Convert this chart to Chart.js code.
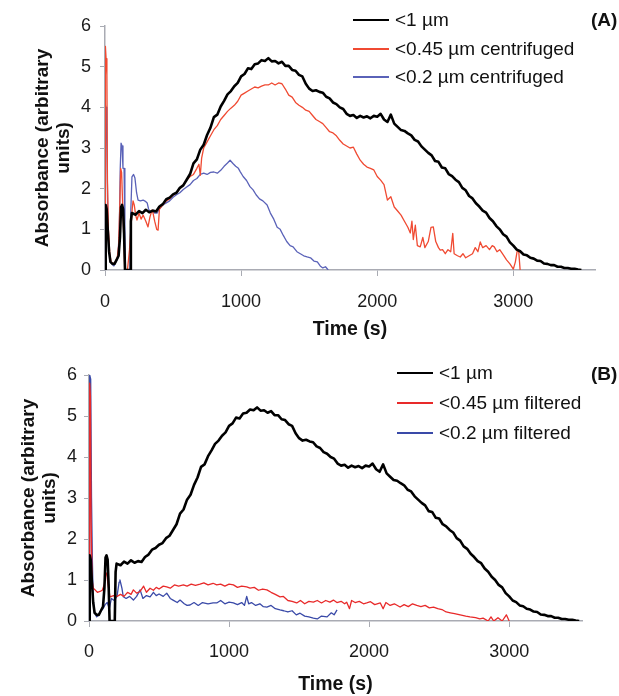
<!DOCTYPE html>
<html>
<head>
<meta charset="utf-8">
<script src="https://cdn.jsdelivr.net/npm/chart.js@4.4.0/dist/chart.umd.min.js"></script>
<style>
  body { margin: 0; background: #fff; font-family: "Liberation Sans", Arial, sans-serif; }
  #page { position: relative; width: 619px; height: 696px; overflow: hidden; }
  .panel { position: absolute; left: 0; width: 619px; }
  #panelA { top: 0; height: 345px; }
  #panelB { top: 345px; height: 351px; }
  .row { position: absolute; white-space: nowrap; font-size: 19px; color: #111; height: 24px; line-height: 24px; }
  .swatch { position: absolute; left: 0; top: 11px; width: 36px; height: 2px; }
  .row span { position: absolute; left: 42px; top: 0; }
  .tag { position: absolute; font-size: 19px; font-weight: bold; color: #111; line-height: 24px; }
</style>
</head>
<body>
<div id="page">
  <div class="panel" id="panelA"><canvas id="chartA" width="619" height="345"></canvas></div>
  <div class="panel" id="panelB"><canvas id="chartB" width="619" height="351"></canvas></div>

  <div class="row" style="left:353px; top:8px;"><div class="swatch" style="background:#000"></div><span>&lt;1 µm</span></div>
  <div class="row" style="left:353px; top:37px;"><div class="swatch" style="background:#f04a32"></div><span>&lt;0.45 µm centrifuged</span></div>
  <div class="row" style="left:353px; top:65px;"><div class="swatch" style="background:#5a62b8"></div><span>&lt;0.2 µm centrifuged</span></div>
  <div class="tag" style="left:591px; top:8px;">(A)</div>

  <div class="row" style="left:397px; top:361px;"><div class="swatch" style="background:#000"></div><span>&lt;1 µm</span></div>
  <div class="row" style="left:397px; top:391px;"><div class="swatch" style="background:#e82a2a"></div><span>&lt;0.45 µm filtered</span></div>
  <div class="row" style="left:397px; top:421px;"><div class="swatch" style="background:#3a4aa8"></div><span>&lt;0.2 µm filtered</span></div>
  <div class="tag" style="left:591px; top:362px;">(B)</div>
</div>

<script>
'use strict';

// --- DADOS: tempo (s) e absorvância ---
const yTicks = [0, 1, 2, 3, 4, 5, 6];
const xTicks = [0, 1000, 2000, 3000];

// <1 µm (igual nos dois painéis)
const blackTime = [0, 5, 12, 20, 30, 40, 55, 70, 85, 100, 110, 118, 125, 133, 140, 147, 165, 184, 190, 197,
  225, 250, 275, 300, 325, 350, 375, 400, 425, 450, 475, 500, 525, 550, 575, 600, 625, 650, 675, 700,
  725, 750, 775, 800, 825, 850, 875, 900, 925, 950, 975, 1000, 1025, 1050, 1075, 1100, 1125, 1150, 1175, 1200,
  1225, 1250, 1275, 1300, 1325, 1350, 1375, 1400, 1425, 1450, 1475, 1500, 1525, 1550, 1575, 1600, 1625, 1650, 1675, 1700,
  1725, 1750, 1775, 1800, 1825, 1850, 1875, 1900, 1925, 1950, 1975, 2000, 2025, 2050, 2075, 2100, 2125, 2150, 2175, 2200,
  2225, 2250, 2275, 2300, 2325, 2350, 2375, 2400, 2425, 2450, 2475, 2500, 2525, 2550, 2575, 2600, 2625, 2650, 2675, 2700,
  2725, 2750, 2775, 2800, 2825, 2850, 2875, 2900, 2925, 2950, 2975, 3000, 3025, 3050, 3075, 3100, 3125, 3150, 3175, 3200,
  3225, 3250, 3275, 3300, 3325, 3350, 3375, 3400, 3425, 3450, 3475, 3500];
const blackAbs = [0, 1.6, 1.5, 1.0, 0.45, 0.2, 0.15, 0.15, 0.25, 0.35, 0.8, 1.55, 1.6, 1.5, 0.9, 0, 0, 0, 1.2, 1.4,
  1.36, 1.45, 1.40, 1.48, 1.42, 1.46, 1.44, 1.56, 1.62, 1.74, 1.78, 1.86, 1.90, 2.02, 2.08, 2.22, 2.36, 2.62, 2.72, 2.96,
  3.08, 3.32, 3.50, 3.76, 3.82, 4.02, 4.16, 4.32, 4.40, 4.52, 4.60, 4.76, 4.82, 4.96, 4.94, 5.06, 5.08, 5.16, 5.14, 5.21,
  5.13, 5.14, 5.08, 5.12, 5.02, 5.02, 4.92, 4.90, 4.80, 4.76, 4.58, 4.46, 4.40, 4.42, 4.38, 4.36, 4.26, 4.22, 4.12, 4.08,
  4.00, 3.96, 3.84, 3.79, 3.81, 3.74, 3.79, 3.75, 3.78, 3.73, 3.79, 3.77, 3.84, 3.70, 3.64, 3.82, 3.60, 3.52, 3.44, 3.42,
  3.36, 3.31, 3.20, 3.16, 3.04, 2.96, 2.88, 2.82, 2.68, 2.66, 2.52, 2.50, 2.36, 2.31, 2.22, 2.16, 2.02, 1.96, 1.82, 1.76,
  1.64, 1.56, 1.46, 1.41, 1.28, 1.20, 1.08, 1.00, 0.88, 0.82, 0.68, 0.60, 0.50, 0.46, 0.38, 0.36, 0.30, 0.28, 0.23, 0.22,
  0.16, 0.15, 0.12, 0.12, 0.08, 0.08, 0.05, 0.05, 0.03, 0.03, 0.01, 0];

// (A) <0.45 µm centrifugado
const redATime = [0, 3, 8, 14, 18, 25, 35, 45, 60, 75, 90, 100, 108, 115, 122, 130, 138, 145, 165, 180,
  190, 200, 206, 215, 225, 235, 250, 265, 280, 300, 316, 330, 345, 353, 365, 380, 390, 400, 425, 450,
  475, 500, 525, 550, 575, 600, 625, 650, 675, 690, 700, 710, 725, 750, 775, 800, 825, 850, 875, 900,
  925, 950, 975, 1000, 1025, 1050, 1075, 1100, 1125, 1150, 1175, 1200, 1225, 1250, 1275, 1300, 1325, 1350, 1375, 1400,
  1425, 1450, 1475, 1500, 1525, 1550, 1575, 1600, 1625, 1650, 1675, 1700, 1725, 1750, 1775, 1800, 1825, 1850, 1875, 1900,
  1925, 1950, 1975, 2000, 2025, 2050, 2075, 2100, 2125, 2150, 2175, 2200, 2225, 2243, 2255, 2265, 2280, 2295, 2316, 2335,
  2350, 2375, 2395, 2412, 2430, 2450, 2463, 2480, 2500, 2520, 2540, 2555, 2565, 2590, 2610, 2630, 2650, 2675, 2700, 2720,
  2740, 2757, 2775, 2800, 2825, 2845, 2860, 2880, 2900, 2925, 2950, 2975, 3000, 3015, 3030, 3040, 3050];
const redAAbs = [0, 5.5, 5.2, 4.8, 2.2, 1.0, 0.4, 0.2, 0.15, 0.2, 0.3, 0.6, 1.5, 2.5, 2.4, 1.6, 0.8, 0, 0, 0.5,
  1.0, 1.5, 1.7, 1.6, 1.35, 1.23, 1.4, 1.25, 1.35, 1.2, 1.06, 1.3, 1.47, 1.4, 1.2, 1.0, 0.98, 1.5, 1.6, 1.7,
  1.75, 1.84, 1.9, 2.0, 2.1, 2.21, 2.3, 2.35, 2.5, 2.6, 2.33, 2.75, 3.0, 3.15, 3.3, 3.45, 3.55, 3.7, 3.8, 3.9,
  3.98, 4.05, 4.15, 4.3, 4.35, 4.4, 4.45, 4.5, 4.48, 4.52, 4.55, 4.55, 4.6, 4.55, 4.6, 4.58, 4.45, 4.3, 4.25, 4.12,
  4.05, 4.0, 3.93, 3.9, 3.8, 3.7, 3.65, 3.6, 3.5, 3.4, 3.37, 3.3, 3.19, 3.1, 3.05, 3.0, 3.02, 2.85, 2.7, 2.6,
  2.53, 2.5, 2.46, 2.3, 2.21, 2.1, 1.72, 1.8, 1.55, 1.45, 1.35, 1.2, 1.05, 0.91, 1.2, 0.75, 1.1, 0.6, 0.57, 0.8,
  0.55, 0.7, 1.05, 1.06, 0.7, 0.55, 0.49, 0.5, 0.4, 0.5, 0.45, 0.9, 0.4, 0.35, 0.32, 0.4, 0.3, 0.35, 0.4, 0.55,
  0.45, 0.69, 0.55, 0.6, 0.5, 0.6, 0.57, 0.45, 0.5, 0.38, 0.25, 0.15, 0.02, 0.2, 0.5, 0.44, 0];

// (A) <0.2 µm centrifugado
const blueATime = [0, 3, 8, 14, 20, 28, 38, 50, 65, 80, 95, 105, 112, 118, 125, 132, 140, 146, 150, 170,
  183, 190, 198, 210, 220, 232, 243, 260, 280, 300, 310, 320, 335, 350, 365, 382, 400, 425, 450, 475,
  500, 525, 550, 575, 600, 625, 650, 675, 700, 725, 750, 775, 800, 825, 850, 875, 900, 919, 940, 960,
  980, 993, 1015, 1040, 1065, 1088, 1110, 1135, 1160, 1191, 1215, 1240, 1265, 1287, 1310, 1335, 1360, 1382, 1410, 1435,
  1460, 1485, 1510, 1535, 1560, 1581, 1600, 1620, 1640];
const blueAAbs = [0, 4.05, 4.0, 3.0, 1.5, 0.6, 0.2, 0.15, 0.1, 0.2, 0.3, 1.0, 2.5, 3.12, 3.05, 2.5, 2.5, 1.0, 0, 0,
  0, 1.5, 2.29, 2.35, 2.26, 1.9, 1.72, 1.7, 1.72, 1.68, 1.65, 1.5, 1.42, 1.45, 1.4, 1.40, 1.5, 1.6, 1.65, 1.7,
  1.79, 1.85, 1.9, 1.98, 2.04, 2.1, 2.2, 2.25, 2.35, 2.38, 2.35, 2.4, 2.41, 2.38, 2.45, 2.55, 2.63, 2.70, 2.62, 2.55,
  2.5, 2.42, 2.3, 2.2, 2.05, 1.97, 1.85, 1.75, 1.7, 1.6, 1.4, 1.25, 1.05, 1.0, 0.85, 0.7, 0.6, 0.57, 0.45, 0.4,
  0.35, 0.32, 0.3, 0.22, 0.2, 0.1, 0.05, 0.08, 0];

// (B) <0.45 µm filtrado
const redBTime = [0, 5, 10, 15, 22, 30, 43, 60, 78, 95, 110, 120, 127, 135, 150, 175, 200, 225, 250, 275,
  300, 317, 340, 365, 390, 410, 436, 460, 480, 500, 530, 555, 580, 610, 640, 674, 700, 730, 760, 793,
  820, 850, 886, 912, 940, 970, 1000, 1031, 1060, 1090, 1126, 1150, 1180, 1210, 1240, 1270, 1300, 1330, 1364, 1388,
  1420, 1450, 1483, 1510, 1540, 1570, 1602, 1630, 1660, 1690, 1720, 1745, 1770, 1800, 1825, 1840, 1860, 1875, 1900, 1930,
  1960, 1983, 2010, 2040, 2080, 2100, 2120, 2150, 2180, 2221, 2250, 2280, 2310, 2340, 2370, 2400, 2430, 2460, 2490, 2520,
  2550, 2580, 2610, 2650, 2690, 2720, 2760, 2790, 2814, 2850, 2870, 2890, 2920, 2950, 2980, 3000];
const redBAbs = [0, 5.8, 5.5, 2.5, 1.0, 0.8, 0.76, 0.7, 0.72, 0.75, 0.9, 1.15, 1.17, 0.9, 0.59, 0.62, 0.6, 0.65, 0.6, 0.7,
  0.65, 0.76, 0.68, 0.72, 0.85, 0.7, 0.8, 0.75, 0.82, 0.78, 0.85, 0.83, 0.8, 0.88, 0.85, 0.88, 0.85, 0.9, 0.87, 0.9,
  0.93, 0.88, 0.92, 0.88, 0.9, 0.85, 0.9, 0.88, 0.82, 0.85, 0.83, 0.8, 0.82, 0.75, 0.78, 0.76, 0.7, 0.65, 0.59, 0.6,
  0.5, 0.48, 0.44, 0.5, 0.42, 0.48, 0.46, 0.5, 0.44, 0.5, 0.46, 0.51, 0.45, 0.48, 0.42, 0.46, 0.3, 0.5, 0.45, 0.48,
  0.42, 0.44, 0.47, 0.4, 0.44, 0.3, 0.45, 0.38, 0.42, 0.34, 0.4, 0.35, 0.42, 0.38, 0.35, 0.38, 0.32, 0.34, 0.3, 0.28,
  0.22, 0.2, 0.18, 0.15, 0.12, 0.1, 0.08, 0.05, 0.07, 0, 0.1, 0, 0.08, 0, 0.15, 0];

// (B) <0.2 µm filtrado
const blueBTime = [0, 5, 12, 18, 24, 30, 40, 55, 70, 85, 100, 115, 130, 145, 160, 180, 200, 215, 221, 235,
  245, 265, 290, 317, 340, 365, 385, 410, 436, 460, 480, 500, 530, 555, 580, 600, 630, 650, 680, 700,
  721, 750, 780, 810, 850, 886, 912, 940, 970, 1000, 1031, 1060, 1090, 1110, 1126, 1140, 1160, 1190, 1220, 1245,
  1270, 1300, 1330, 1364, 1390, 1420, 1450, 1480, 1507, 1540, 1570, 1602, 1630, 1660, 1700, 1730, 1750, 1771];
const blueBAbs = [0, 6.0, 5.9, 3.0, 1.5, 0.5, 0.2, 0.1, 0.15, 0.25, 0.3, 0.4, 0.45, 0.3, 0.55, 0.5, 0.6, 0.95, 1.0, 0.8,
  0.59, 0.55, 0.6, 0.51, 0.6, 0.76, 0.55, 0.62, 0.59, 0.7, 0.62, 0.66, 0.6, 0.68, 0.55, 0.51, 0.45, 0.51, 0.42, 0.38,
  0.39, 0.45, 0.38, 0.45, 0.42, 0.44, 0.44, 0.5, 0.42, 0.46, 0.44, 0.4, 0.45, 0.38, 0.6, 0.42, 0.45, 0.38, 0.42, 0.35,
  0.34, 0.38, 0.3, 0.27, 0.25, 0.22, 0.25, 0.15, 0.19, 0.12, 0.1, 0.07, 0.05, 0.12, 0.1, 0.2, 0.15, 0.27];

const FONT = '"Liberation Sans", Arial, sans-serif';

const toPoints = (times, values) => times.map((t, i) => ({ x: t, y: values[i] }));

function lineSet(label, times, values, color, width) {
    return {
        label: label,
        data: toPoints(times, values),
        borderColor: color,
        borderWidth: width,
        pointRadius: 0,
        tension: 0,
        borderJoinStyle: 'round',
        fill: false
    };
}

// --- PAINEL ---
function buildPanel(canvasId, datasets, box) {
    const ctx = document.getElementById(canvasId).getContext('2d');
    return new Chart(ctx, {
        type: 'line',
        data: { datasets: datasets },
        options: {
            responsive: false,
            animation: false,
            layout: { padding: { top: box.top, right: 619 - box.right, left: 0, bottom: 0 } },
            plugins: { legend: { display: false }, tooltip: { enabled: false } },
            scales: {
                x: {
                    type: 'linear',
                    min: 0,
                    max: box.xMax,
                    afterBuildTicks: (s) => { s.ticks = xTicks.map(v => ({ value: v })); },
                    afterFit: (s) => { s.height = box.xHeight; },
                    border: { color: '#a9abb3', width: 1.5 },
                    grid: { drawOnChartArea: false, drawTicks: true, tickLength: 6, color: '#a9abb3' },
                    ticks: {
                        color: '#1a1a1a', font: { family: FONT, size: 18 }, padding: box.xPad, maxRotation: 0,
                        callback: (v) => String(v)
                    },
                    title: {
                        display: true, text: 'Time (s)', color: '#111',
                        font: { family: FONT, size: 19.5, weight: 'bold' },
                        padding: { top: 0, bottom: box.xTitlePad }
                    }
                },
                y: {
                    min: 0,
                    max: 6,
                    afterBuildTicks: (s) => { s.ticks = yTicks.map(v => ({ value: v })); },
                    afterFit: (s) => { s.width = box.left; },
                    border: { color: '#a9abb3', width: 1.5 },
                    grid: { drawOnChartArea: false, drawTicks: true, tickLength: 5, color: '#a9abb3' },
                    ticks: { color: '#1a1a1a', font: { family: FONT, size: 18 }, padding: box.yPad, callback: (v) => String(v) },
                    title: {
                        display: true, text: ['Absorbance (arbitrary', 'units)'], color: '#111',
                        font: { family: FONT, size: 19, weight: 'bold', lineHeight: 1.1 },
                        padding: { top: box.yTitlePad, bottom: 0 }
                    }
                }
            }
        }
    });
}

buildPanel('chartA', [
    lineSet('<1 µm', blackTime, blackAbs, '#000000', 2.6),
    lineSet('<0.45 µm centrifuged', redATime, redAAbs, '#f04a32', 1.3),
    lineSet('<0.2 µm centrifuged', blueATime, blueAAbs, '#5a62b8', 1.3)
], { left: 105, right: 595, top: 26, xMax: 3600, xHeight: 75, xPad: 15, xTitlePad: 4, yPad: 9, yTitlePad: 32 });

buildPanel('chartB', [
    lineSet('<1 µm', blackTime, blackAbs, '#000000', 2.6),
    lineSet('<0.45 µm filtered', redBTime, redBAbs, '#e82a2a', 1.3),
    lineSet('<0.2 µm filtered', blueBTime, blueBAbs, '#3a4aa8', 1.3)
], { left: 89, right: 582, top: 30, xMax: 3520, xHeight: 75, xPad: 14, xTitlePad: 0, yPad: 7, yTitlePad: 18 });
</script>
</body>
</html>
